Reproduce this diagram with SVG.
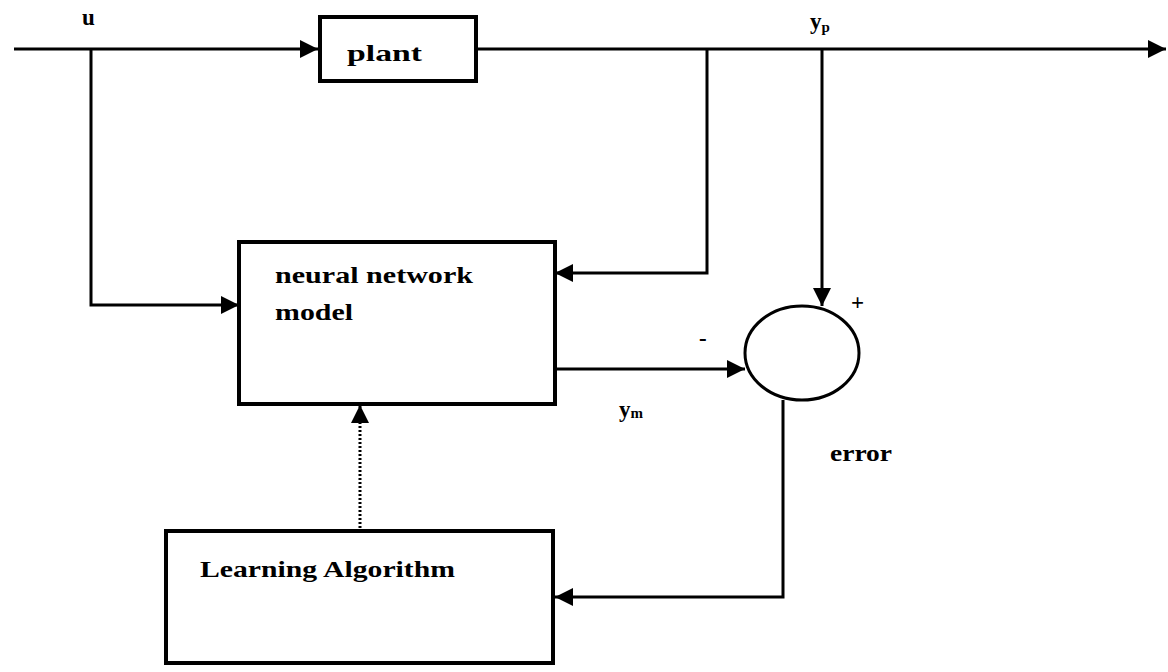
<svg xmlns="http://www.w3.org/2000/svg" width="1168" height="672" viewBox="0 0 1168 672">
<style>
.box{fill:#fff;stroke:#000;stroke-width:4}
.ln{fill:none;stroke:#000;stroke-width:3}
.dot{fill:none;stroke:#000;stroke-width:3;stroke-dasharray:2 2}
.t{font-family:"Liberation Serif",serif;font-weight:bold;font-size:23px;fill:#000}
</style>
<defs>
<marker id="ah" viewBox="0 0 10 10" refX="10" refY="5" markerWidth="6" markerHeight="6" markerUnits="strokeWidth" orient="auto">
<path d="M0,0 L10,5 L0,10 z" fill="#000"/>
</marker>
</defs>
<rect width="1168" height="672" fill="#fff"/>
<g id="connectors">
<line class="ln" x1="14" y1="49" x2="318" y2="49" marker-end="url(#ah)"/>
<line class="ln" x1="477" y1="49" x2="1166" y2="49" marker-end="url(#ah)"/>
<polyline class="ln" points="91,49 91,305 239,305" marker-end="url(#ah)"/>
<polyline class="ln" points="707,49 707,273 555,273" marker-end="url(#ah)"/>
<line class="ln" x1="822" y1="49" x2="822" y2="306" marker-end="url(#ah)"/>
<line class="ln" x1="555" y1="369" x2="745" y2="369" marker-end="url(#ah)"/>
<polyline class="ln" points="783,400 783,597 555,597" marker-end="url(#ah)"/>
<line class="dot" x1="360" y1="528" x2="360" y2="405" marker-end="url(#ah)"/>
</g>
<g id="plant">
<rect class="box" x="320" y="17" width="156" height="64"/>
<text class="t" x="347" y="61" font-size="22" textLength="75" lengthAdjust="spacingAndGlyphs">plant</text>
</g>
<g id="neural-network-model">
<rect class="box" x="239" y="242" width="316" height="162"/>
<text class="t" x="275" y="283" textLength="198" lengthAdjust="spacingAndGlyphs">neural network</text>
<text class="t" x="275" y="320" textLength="78" lengthAdjust="spacingAndGlyphs">model</text>
</g>
<g id="sum">
<ellipse cx="802" cy="353" rx="57" ry="47" fill="#fff" stroke="#000" stroke-width="3"/>
<text class="t" x="851" y="310" font-size="16">+</text>
<text class="t" x="699" y="346" font-size="16">-</text>
</g>
<g id="learning-algorithm">
<rect class="box" x="166" y="531" width="387" height="132"/>
<text class="t" x="200" y="577" font-size="26" textLength="255" lengthAdjust="spacingAndGlyphs">Learning Algorithm</text>
</g>
<g id="labels">
<text class="t" x="82" y="25" font-size="18">u</text>
<text class="t" x="810" y="29" font-size="21">y<tspan font-size="15" dy="3">p</tspan></text>
<text class="t" x="619" y="417" font-size="20">y<tspan font-size="15" dy="1">m</tspan></text>
<text class="t" x="830" y="461" font-size="20" textLength="62" lengthAdjust="spacingAndGlyphs">error</text>
</g>
</svg>
